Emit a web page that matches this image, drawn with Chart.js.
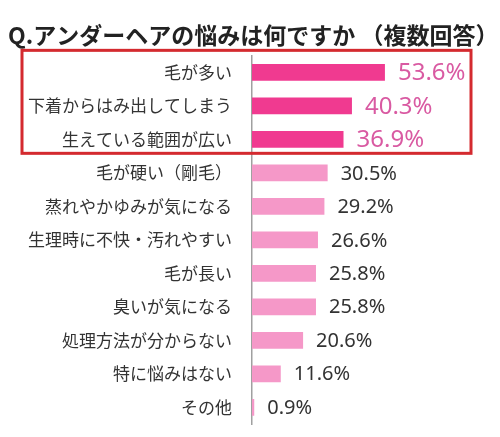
<!DOCTYPE html>
<html>
<head>
<meta charset="utf-8">
<script src="https://cdn.jsdelivr.net/npm/chart.js@4/dist/chart.umd.min.js"></script>
<style>
  html, body { margin: 0; padding: 0; background: #fff; }
  #wrap { width: 500px; height: 437px; position: relative; }
</style>
</head>
<body>
<div id="wrap"><canvas id="chart"></canvas></div>
<script>
// data
var titleText = 'Q.アンダーヘアの悩みは何ですか （複数回答）';
var categories = ['毛が多い', '下着からはみ出してしまう', '生えている範囲が広い', '毛が硬い（剛毛）',
    '蒸れやかゆみが気になる', '生理時に不快・汚れやすい', '毛が長い', '臭いが気になる',
    '処理方法が分からない', '特に悩みはない', 'その他'];
var values = [53.6, 40.3, 36.9, 30.5, 29.2, 26.6, 25.8, 25.8, 20.6, 11.6, 0.9];
var topCount = 3; // rows inside the red box

var jpFont = '"Noto Sans CJK JP", "Noto Sans", sans-serif';

var barColors = values.map(function(v, i) {
    return i < topCount ? '#f03a90' : '#f598c8';
});

// value labels next to each bar
var valueLabels = {
    id: 'valueLabels',
    afterDatasetsDraw: function(chart) {
        var ctx = chart.ctx;
        var meta = chart.getDatasetMeta(0);
        ctx.save();
        ctx.textBaseline = 'middle';
        ctx.textAlign = 'left';
        meta.data.forEach(function(bar, i) {
            if (i < topCount) {
                ctx.fillStyle = '#d95aa2';
                ctx.font = '24px "Noto Sans", sans-serif';
            } else {
                ctx.fillStyle = '#333333';
                ctx.font = '20px "Noto Sans", sans-serif';
            }
            ctx.fillText(values[i].toFixed(1) + '%', bar.x + 13, bar.y + 1);
        });
        ctx.restore();
    }
};

// red frame round the top answers
var redBox = {
    id: 'redBox',
    afterDraw: function(chart) {
        var ctx = chart.ctx;
        var y = chart.scales.y;
        var top = y.getPixelForValue(0) - 22;
        var bottom = y.getPixelForValue(topCount - 1) + 14;
        ctx.save();
        ctx.strokeStyle = '#d42a2f';
        ctx.lineWidth = 3;
        ctx.strokeRect(22, top, 471 - 22, bottom - top);
        ctx.restore();
    }
};

var chart = new Chart(document.getElementById('chart').getContext('2d'), {
    type: 'bar',
    data: {
        labels: categories,
        datasets: [{
            data: values,
            backgroundColor: barColors,
            borderWidth: 0,
            categoryPercentage: 1,
            barPercentage: 0.5
        }]
    },
    options: {
        indexAxis: 'y',
        responsive: true,
        maintainAspectRatio: false,
        animation: false,
        layout: { padding: { left: 8, right: 0, top: 0, bottom: 13 } },
        plugins: {
            legend: { display: false },
            tooltip: { enabled: false },
            title: {
                display: true,
                text: titleText,
                align: 'start',
                color: '#222',
                font: { family: jpFont, size: 23, weight: 'bold' },
                padding: { top: 21, bottom: 7 }
            }
        },
        scales: {
            x: {
                display: false,
                min: 0,
                max: 100
            },
            y: {
                grid: { display: false, drawTicks: false },
                border: { display: true, color: '#a0a0a0', width: 1.5 },
                ticks: {
                    color: '#333',
                    padding: 20,
                    font: { family: jpFont, size: 17 }
                },
                afterFit: function(scale) {
                    scale.width = 244;
                    // tick padding should not push the plot area in
                    scale.paddingTop = 0;
                    scale.paddingBottom = 0;
                }
            }
        }
    },
    plugins: [valueLabels, redBox]
});
</script>
</body>
</html>
